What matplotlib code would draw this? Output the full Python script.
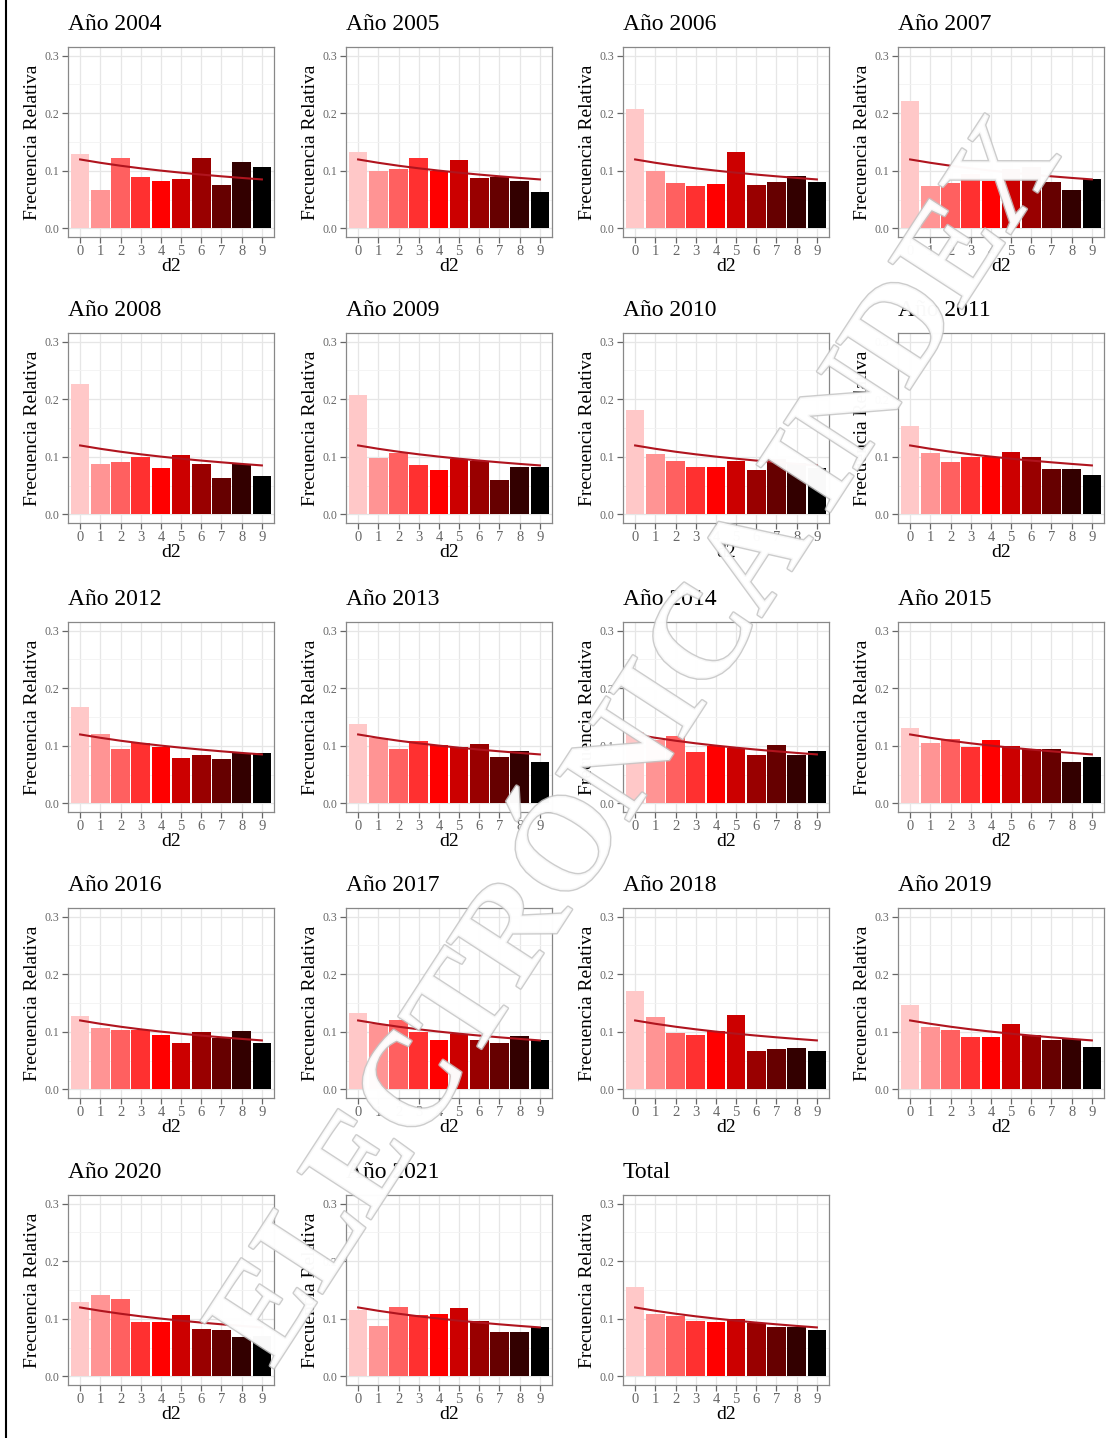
import matplotlib
matplotlib.use("Agg")
import matplotlib.pyplot as plt
import matplotlib.patheffects as pe
from matplotlib.lines import Line2D
from matplotlib.ticker import MultipleLocator

plt.rcParams['font.family'] = ['Liberation Serif', 'DejaVu Serif']

digits = [0, 1, 2, 3, 4, 5, 6, 7, 8, 9]
digit_labels = ["0", "1", "2", "3", "4", "5", "6", "7", "8", "9"]

# Benford second-digit reference proportions
benford_d2 = [0.1197, 0.1139, 0.1088, 0.1043, 0.1003, 0.0967, 0.0934, 0.0904, 0.0876, 0.0850]

titles = ["Año 2004", "Año 2005", "Año 2006", "Año 2007",
          "Año 2008", "Año 2009", "Año 2010", "Año 2011",
          "Año 2012", "Año 2013", "Año 2014", "Año 2015",
          "Año 2016", "Año 2017", "Año 2018", "Año 2019",
          "Año 2020", "Año 2021", "Total"]

f2004 = [0.129, 0.066, 0.123, 0.090, 0.083, 0.086, 0.123, 0.075, 0.115, 0.106]
f2005 = [0.133, 0.100, 0.103, 0.122, 0.100, 0.119, 0.087, 0.090, 0.083, 0.063]
f2006 = [0.207, 0.100, 0.079, 0.073, 0.077, 0.133, 0.076, 0.080, 0.091, 0.081]
f2007 = [0.221, 0.074, 0.078, 0.095, 0.082, 0.103, 0.106, 0.080, 0.067, 0.085]
f2008 = [0.226, 0.087, 0.091, 0.100, 0.080, 0.103, 0.087, 0.063, 0.087, 0.066]
f2009 = [0.207, 0.098, 0.107, 0.085, 0.077, 0.096, 0.092, 0.059, 0.083, 0.082]
f2010 = [0.182, 0.105, 0.093, 0.083, 0.083, 0.093, 0.077, 0.096, 0.090, 0.081]
f2011 = [0.154, 0.107, 0.091, 0.099, 0.099, 0.109, 0.100, 0.079, 0.079, 0.069]
f2012 = [0.167, 0.120, 0.094, 0.104, 0.098, 0.079, 0.084, 0.077, 0.087, 0.087]
f2013 = [0.138, 0.113, 0.094, 0.108, 0.101, 0.098, 0.103, 0.081, 0.091, 0.071]
f2014 = [0.124, 0.110, 0.117, 0.090, 0.100, 0.097, 0.084, 0.101, 0.084, 0.091]
f2015 = [0.131, 0.105, 0.111, 0.098, 0.110, 0.100, 0.094, 0.095, 0.071, 0.081]
f2016 = [0.127, 0.107, 0.103, 0.103, 0.094, 0.081, 0.100, 0.090, 0.102, 0.080]
f2017 = [0.132, 0.113, 0.121, 0.099, 0.085, 0.096, 0.085, 0.080, 0.093, 0.085]
f2018 = [0.170, 0.125, 0.098, 0.094, 0.101, 0.129, 0.067, 0.070, 0.072, 0.067]
f2019 = [0.146, 0.109, 0.103, 0.091, 0.091, 0.113, 0.094, 0.085, 0.087, 0.074]
f2020 = [0.129, 0.141, 0.134, 0.095, 0.095, 0.107, 0.083, 0.080, 0.069, 0.070]
f2021 = [0.116, 0.088, 0.120, 0.106, 0.108, 0.119, 0.097, 0.077, 0.077, 0.086]
ftotal = [0.155, 0.109, 0.104, 0.097, 0.095, 0.100, 0.093, 0.085, 0.085, 0.080]

series = [f2004, f2005, f2006, f2007, f2008, f2009, f2010, f2011, f2012,
          f2013, f2014, f2015, f2016, f2017, f2018, f2019, f2020, f2021, ftotal]

bar_colors = ["#FFC8C8", "#FF9494", "#FF6060", "#FF3030", "#FF0000",
              "#CC0000", "#990000", "#660000", "#330000", "#000000"]

W, H = 1108, 1438
fig = plt.figure(figsize=(W / 100, H / 100), dpi=100)
fig.patch.set_facecolor("white")

col_left = [68, 346, 623, 898]
row_top = [47, 333, 622, 908, 1195]
aw, ah = 206, 190

for i, (title, vals) in enumerate(zip(titles, series)):
    r, c = divmod(i, 4)
    x0 = col_left[c]
    y0 = row_top[r]
    ax = fig.add_axes([x0 / W, 1 - (y0 + ah) / H, aw / W, ah / H])
    ax.set_facecolor("white")
    ax.bar(digits, vals, width=0.92, color=bar_colors, zorder=2)
    ax.plot(digits, benford_d2, color="#B0141E", lw=1.5, zorder=3)
    ax.set_xlim(-0.6, 9.6)
    ax.set_ylim(-0.015, 0.315)
    ax.set_xticks(digits)
    ax.set_xticklabels(digit_labels)
    ax.set_yticks([0.0, 0.1, 0.2, 0.3])
    ax.set_yticklabels(["0.0", "0.1", "0.2", "0.3"])
    ax.yaxis.set_minor_locator(MultipleLocator(0.05))
    ax.grid(which="major", color="#E6E6E6", lw=0.9, zorder=0)
    ax.grid(which="minor", axis="y", color="#F2F2F2", lw=0.6, zorder=0)
    ax.set_axisbelow(True)
    ax.tick_params(axis="x", which="major", labelsize=10.5, colors="#666666",
                   length=4, width=0.9, pad=2)
    ax.tick_params(axis="y", which="major", labelsize=8.5, colors="#666666",
                   length=4, width=0.9, pad=2)
    ax.tick_params(axis="y", which="minor", length=0)
    for s in ax.spines.values():
        s.set_color("#888888")
        s.set_linewidth(0.9)
    ax.set_xlabel("d2", fontsize=14, labelpad=0)
    ax.set_ylabel("Frecuencia Relativa", fontsize=14, labelpad=3)
    ax.set_title(title, fontsize=17, loc="left", x=0.0, pad=12)

# left border line
fig.add_artist(Line2D([6 / W, 6 / W], [0, 1], color="black", lw=1.5))

# watermark
fig.text(640 / W, 1 - 745 / H, "ELECTRÓNICA INDEX", fontsize=96,
         fontweight="heavy", rotation=57, ha="center", va="center",
         color="white", alpha=0.85, zorder=10,
         path_effects=[pe.withStroke(linewidth=2, foreground="#C4C4C4")])

fig.savefig("out.png", dpi=100)
